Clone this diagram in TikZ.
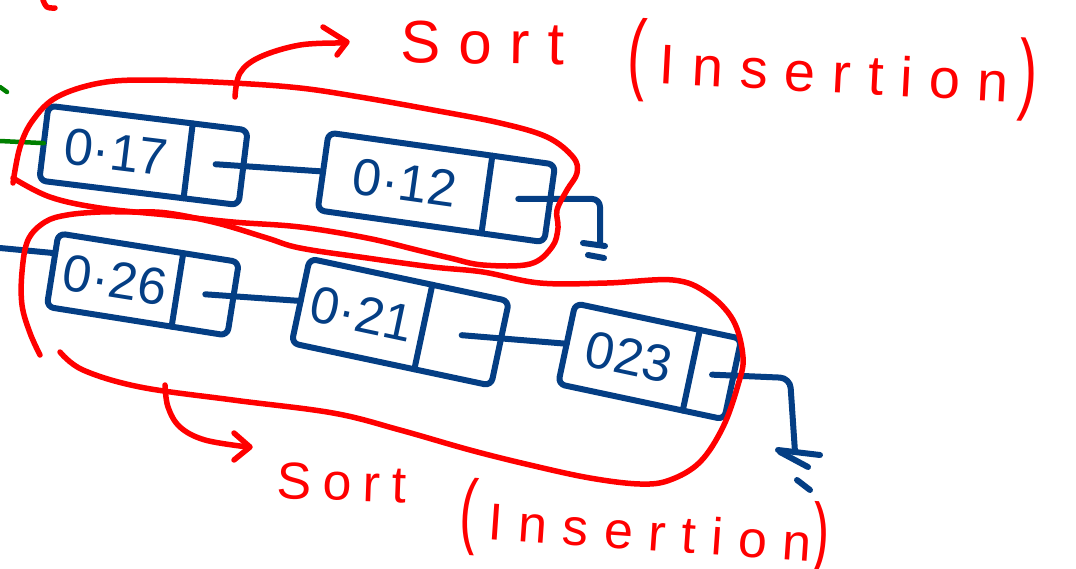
\documentclass[tikz,border=0pt]{standalone}
\usepackage{fontspec}
\setmainfont{Liberation Sans}
\newfontfamily\numfont{Liberation Sans}
\newfontfamily\handfontA[LetterSpace=30]{Liberation Sans}
\newfontfamily\handfontB[LetterSpace=22]{Liberation Sans}
\newfontfamily\parenfont{Liberation Sans}
\usetikzlibrary{calc}
\definecolor{inkblue}{RGB}{4,62,132}
\definecolor{inkred}{RGB}{255,0,0}
\definecolor{inkgreen}{RGB}{0,128,0}
\newcommand{\tallparen}[1]{{\parenfont\scalebox{1}[1.6]{#1}}}
\begin{document}
\begin{tikzpicture}[x=1pt,y=-1pt,
  ink/.style={line width=6pt,line cap=round,line join=round},
  bl/.style={ink,draw=inkblue},
  rd/.style={ink,draw=inkred,line width=5.5pt},
  gr/.style={ink,draw=inkgreen,line width=4.5pt},
  valcell/.style={rectangle,inner sep=0pt,text=inkblue,
    font=\numfont\fontsize{52}{52}\selectfont},
  ptrcell/.style={rectangle,inner sep=0pt,anchor=west},
  hand/.style={text=inkred,inner sep=0pt,anchor=base west}]
\useasboundingbox (0,0) rectangle (1076,568);

% ---- upper list ----
\node[valcell,rotate=-7,minimum width=145pt,minimum height=75pt] (v1) at (116,152) {0·17};
\node[ptrcell,rotate=-7,minimum width=55pt,minimum height=75pt] (p1) at (v1.east) {};
\node[valcell,rotate=-8,minimum width=165pt,minimum height=78pt] (v2) at (405,183) {0·12};
\node[ptrcell,rotate=-8,minimum width=63pt,minimum height=78pt] (p2) at (v2.east) {};

% ---- lower list ----
\node[valcell,rotate=-9,minimum width=126pt,minimum height=74pt] (v3) at (115,280) {0·26};
\node[ptrcell,rotate=-9,minimum width=56pt,minimum height=74pt] (p3) at (v3.east) {};
\node[valcell,rotate=-12,minimum width=125pt,minimum height=86pt] (v4) at (362,314) {0·21};
\node[ptrcell,rotate=-12,minimum width=78pt,minimum height=86pt] (p4) at (v4.east) {};
\node[valcell,rotate=-12,minimum width=127pt,minimum height=82pt] (v5) at (629,357) {023};
\node[ptrcell,rotate=-12,minimum width=42pt,minimum height=82pt] (p5) at (v5.east) {};

% box outlines and dividers
\foreach \v/\p in {v1/p1,v2/p2,v3/p3,v4/p4,v5/p5}{
  \draw[bl,rounded corners=7pt] (\v.north west) -- (\p.north east) -- (\p.south east) -- (\v.south west) -- cycle;
  \draw[bl] (\v.north east) -- (\v.south east);
}

% ---- connectors ----
\coordinate (gin) at (0,141);
\coordinate (in3) at (0,248);
\coordinate (g2) at (600,243);
\coordinate (g5) at (795,452);
\draw[gr] (gin) -- (v1.west);
\draw[gr] (0,87) -- (7,92);
\draw[bl] (in3) -- ($(v3.north west)!0.27!(v3.south west)$);
\draw[bl] (p1.center) -- (v2.west);
\draw[bl] (p3.center) -- (v4.west);
\draw[bl] (p4.center) -- (v5.west);
\draw[bl,rounded corners=8pt] (p2.center) -| (g2);
\draw[bl] ($(g2)+(-17,0)$) -- ($(g2)+(5,3)$);
\draw[bl] ($(g2)+(-12,12)$) -- ($(g2)+(4,15)$);
\draw[bl,rounded corners=10pt] (p5.center) -- (790,378) -- (g5);
\draw[bl] ($(g5)+(-17,-2)$) -- ($(g5)+(25,3)$);
\draw[bl] ($(g5)+(-15,0)$) -- ($(g5)+(13,15)$);
\draw[bl] ($(g5)+(2,28)$) -- ($(g5)+(15,38)$);

% ---- red loops ----
\draw[rd] plot[smooth,tension=0.6] coordinates {(13,183) (20,147) (33,120) (57,97) (100,83) (150,80) (233,83) (300,88) (360,97) (433,110) (500,123) (547,137) (573,157) (577,173) (567,190) (557,210) (558,228) (552,247) (530,264) (483,265) (450,258) (417,250) (367,238) (300,227) (233,222) (167,215) (100,208) (50,197) (13,178)};
\draw[rd] plot[smooth,tension=0.6] coordinates {(40,355) (30,333) (22,305) (22,272) (28,240) (45,222) (67,215) (100,212) (133,212) (167,213) (217,223) (267,238) (300,248) (367,258) (433,267) (483,272) (540,283) (607,283) (673,280) (707,293) (733,320) (743,357) (738,385) (723,427) (700,462) (670,480) (640,484) (590,478) (530,465) (470,450) (400,430) (333,413) (233,400) (140,387) (83,370) (60,352)};
\draw[rd] plot[smooth,tension=0.6] coordinates {(43,0) (47,7) (55,8)};
% arrows
\draw[rd] plot[smooth,tension=0.6] coordinates {(235,97) (240,73) (260,57) (300,45) (343,43)};
\draw[rd] (323,27) -- (347,42) -- (337,55);
\draw[rd] plot[smooth,tension=0.6] coordinates {(165,385) (168,407) (180,427) (205,440) (248,447)};
\draw[rd] (234,433) -- (250,447) -- (234,460);

% ---- labels ----
\node[hand,rotate=-1,font=\handfontA\fontsize{60}{60}\selectfont] (t1) at (400,62) {Sort};
\node[hand,rotate=-3,font=\handfontA\fontsize{56}{56}\selectfont] (t2) at (626,82)
  {\tallparen{(}\hspace{14pt}Insertion\hspace{10pt}\tallparen{)}};
\node[hand,rotate=-2,font=\handfontB\fontsize{52}{52}\selectfont] (t3) at (276,498) {Sort};
\node[hand,rotate=-4,font=\handfontA\fontsize{52}{52}\selectfont] (t4) at (458,537)
  {\tallparen{(}\hspace{12pt}Insertion\tallparen{)}};
\end{tikzpicture}
\end{document}
